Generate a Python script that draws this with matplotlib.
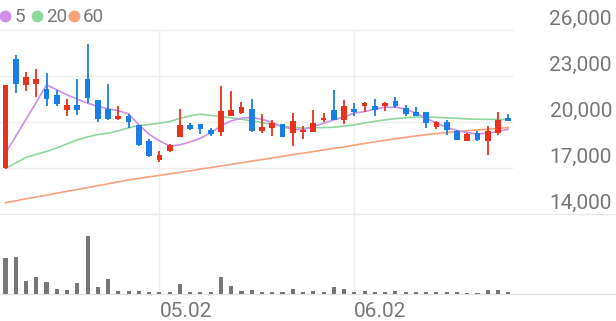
import matplotlib
matplotlib.use('Agg')
import matplotlib.pyplot as plt
from matplotlib.lines import Line2D

# ---------------- data ----------------
opens = [17000, 24110, 22400, 22500, 22170, 21730, 20770, 21140, 22820, 21420,
         20880, 20200, 20370, 19780, 18740, 17490, 18080, 19020, 19780, 19900,
         19500, 19330, 20420, 20600, 20860, 19440, 19610, 19900, 19290, 19330,
         19330, 20110, 20810, 20160, 20860, 21030, 21070, 21030, 21360, 20920,
         20660, 20640, 19680, 20010, 19440, 18780, 19290, 18740, 19290, 20270]
highs = [22420, 24370, 23280, 23480, 23170, 22080, 21470, 22780, 25070, 21420,
         22500, 21030, 20550, 19830, 18910, 18080, 18590, 20860, 19940, 19900,
         19610, 22340, 22010, 21290, 21470, 20490, 20110, 19900, 20600, 19760,
         20810, 20600, 22080, 21420, 21250, 21290, 21470, 21290, 21640, 21140,
         20990, 20640, 20050, 20160, 19500, 19290, 19390, 19760, 20660, 20550]
lows = [16950, 21890, 22010, 21640, 21070, 21070, 20420, 20470, 21250, 19980,
        20160, 20110, 19610, 18450, 17750, 17360, 18040, 19020, 19460, 19240,
        19110, 19060, 20370, 20530, 19350, 19300, 19110, 19020, 18410, 18890,
        19330, 19980, 20160, 19900, 20420, 20660, 20420, 20700, 20920, 20420,
        20370, 19610, 19550, 19180, 18800, 18760, 18780, 17870, 19160, 20050]
closes = [22420, 22480, 22950, 22820, 21510, 21190, 21140, 20810, 21580, 20220,
          20200, 20370, 19980, 18520, 17800, 17870, 18520, 19830, 19570, 19570,
          19240, 20700, 20810, 20990, 19390, 19650, 19940, 19020, 20090, 19500,
          19940, 20270, 20160, 21030, 20640, 21250, 20810, 21250, 21030, 20550,
          20420, 19940, 19980, 19500, 18850, 19240, 18800, 19390, 20160, 20050]
volumes = [321000, 330000, 117000, 153000, 108000, 42000, 33000, 102000, 525000, 60000,
           135000, 30000, 27000, 30000, 21000, 18000, 18000, 87000, 15000, 15000,
           15000, 153000, 72000, 24000, 36000, 21000, 18000, 18000, 45000, 21000,
           30000, 21000, 63000, 45000, 21000, 24000, 21000, 21000, 24000, 18000,
           18000, 18000, 15000, 15000, 15000, 12000, 12000, 36000, 36000, 18000]
ma5 = [17960, 19070, 20180, 21290, 22420, 22100, 21770, 21490, 21230, 21010,
       20860, 20730, 20530, 19810, 19200, 18770, 18440, 18510, 18700, 18940,
       19290, 19750, 20070, 20250, 20290, 20180, 19960, 19700, 19530, 19490,
       19700, 19920, 20140, 20330, 20580, 20680, 20840, 20970, 20970, 20840,
       20580, 20250, 19920, 19660, 19440, 19310, 19220, 19270, 19370, 19530]
ma20 = [16980, 17330, 17690, 17890, 18080, 18310, 18570, 18830, 19030, 19180,
        19270, 19420, 19620, 19780, 19830, 19920, 20030, 20240, 20400, 20510,
        20430, 20350, 20270, 20180, 20070, 19960, 19840, 19710, 19650, 19600,
        19620, 19640, 19660, 19730, 19810, 19940, 20040, 20140, 20220, 20280,
        20320, 20320, 20300, 20270, 20240, 20200, 20180, 20170, 20170, 20160]
ma60 = [14740, 14860, 14990, 15110, 15230, 15360, 15480, 15600, 15720, 15850,
        15970, 16100, 16220, 16320, 16420, 16520, 16620, 16720, 16820, 16930,
        17030, 17130, 17240, 17340, 17450, 17550, 17660, 17760, 17870, 17970,
        18070, 18180, 18280, 18370, 18490, 18600, 18710, 18810, 18910, 19000,
        19090, 19170, 19240, 19310, 19370, 19430, 19480, 19530, 19580, 19640]
price_ticks = [14000, 17000, 20000, 23000, 26000]
price_labels = ['14,000', '17,000', '20,000', '23,000', '26,000']
date_idx = [15, 34]
date_labels = ['05.02', '06.02']
legend_labels = ['5', '20', '60']

# ---------------- style ----------------
UP = '#e8321c'
DOWN = '#1a7ee6'
C5, C20, C60 = '#cf8ded', '#8ed89d', '#f8a27b'
GRID = '#eeeeee'
TXT = '#777777'
FONT = 'Roboto'

W, H = 616, 321
fig = plt.figure(figsize=(W / 100, H / 100), dpi=100)
fig.patch.set_facecolor('white')


def rect(x0, y0, x1, y1):
    return [x0 / W, 1 - y1 / H, (x1 - x0) / W, (y1 - y0) / H]


n = len(closes)
idx = list(range(n))
step, first = 10.26, 5.5
xlim = (-first / step, (512 - first) / step)

ax = fig.add_axes(rect(0, 30, 512, 214))
ax.set_xlim(*xlim)
ax.set_ylim(price_ticks[0], price_ticks[-1])
ax.axis('off')

vax = fig.add_axes(rect(0, 214, 512, 294))
vax.set_xlim(*xlim)
vax.set_ylim(0, 720000)
vax.axis('off')

# grid
for v in price_ticks[1:]:
    ax.axhline(v, color=GRID, lw=1, clip_on=False, zorder=0)
for d in date_idx:
    ax.axvline(d, color=GRID, lw=1, clip_on=False, zorder=0)
    vax.axvline(d, color=GRID, lw=1, clip_on=False, zorder=0)
for yp, col in [(214, '#e8e8e8'), (294, '#e2e2e2')]:
    fig.add_artist(Line2D([0, 1], [1 - yp / H] * 2, transform=fig.transFigure,
                          color=col, lw=1, zorder=0))

# moving averages
ax.plot(idx, ma60, color=C60, lw=1.2, zorder=2)
ax.plot(idx, ma20, color=C20, lw=1.2, zorder=2)
ax.plot(idx, ma5, color=C5, lw=1.2, zorder=2)

# candles
for i in idx:
    o, h, l, c = opens[i], highs[i], lows[i], closes[i]
    col = UP if c >= o else DOWN
    ax.vlines(i, l, h, color=col, lw=1.3, zorder=3)
    bot = min(o, c)
    hgt = max(abs(c - o), 60)
    ax.bar(i, hgt, bottom=bot, width=0.56, color=col, zorder=4, lw=0)

# volume
vax.bar(idx, volumes, width=0.4, color='#777777', lw=0)

# y labels on the right, above gridlines
for v, lab in zip(price_ticks, price_labels):
    ax.annotate(lab, xy=(612 / W, v), xycoords=('figure fraction', 'data'),
                xytext=(0, 5), textcoords='offset pixels', ha='right',
                va='baseline', fontsize=15, color=TXT, family=FONT,
                annotation_clip=False)

# date labels
for d, lab in zip(date_idx, date_labels):
    vax.annotate(lab, xy=(d, 1 - 317 / H), xycoords=('data', 'figure fraction'),
                 ha='left', va='baseline', fontsize=15, color=TXT, family=FONT,
                 annotation_clip=False)

# legend
for (dx, tx), lab, col in zip([(5, 15), (37, 46), (74, 83)], legend_labels,
                              [C5, C20, C60]):
    fig.add_artist(Line2D([dx / W], [1 - 16 / H], transform=fig.transFigure,
                          marker='o', markersize=7.5, color=col, lw=0))
    fig.text(tx / W, 1 - 16.5 / H, lab, ha='left', va='center', fontsize=13.5,
             color=TXT, family=FONT)

fig.savefig('out.png', dpi=100, facecolor='white')
